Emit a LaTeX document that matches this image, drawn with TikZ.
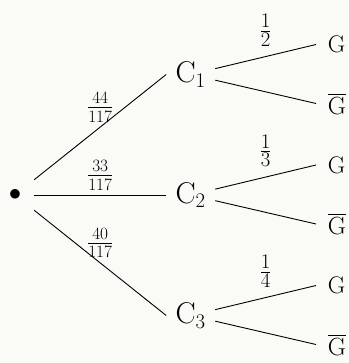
\documentclass[tikz,border=0pt]{standalone}
\usepackage{amsmath}
\usepackage{tikz}
\usetikzlibrary{positioning}
\definecolor{paper}{RGB}{250,250,246}

\begin{document}
\begin{tikzpicture}[x=1pt, y=-1pt, node distance=120.5pt,
    rootdot/.style={inner sep=0pt, minimum width=38pt, minimum height=36pt, font=\fontsize{24}{29}\selectfont},
    event/.style={inner xsep=9.3pt, inner ysep=2pt, font=\fontsize{30}{36}\selectfont},
    outcome/.style={anchor=west, inner xsep=11.7pt, inner ysep=2pt, font=\fontsize{24}{29}\selectfont},
    wlabel/.style={midway, above=4.5pt, inner sep=0pt, font=\fontsize{24}{29}\selectfont},
    plabel/.style={midway, above=10pt, inner sep=0pt, font=\fontsize{30}{36}\selectfont},
    branch/.style={line width=0.9pt}]
    \fill[paper] (0,0) rectangle (348,363);
    \useasboundingbox (0,0) rectangle (348,363);

    % first stage
    \node[rootdot] (root) at (15,195) {$\bullet$};
    \node[event, right=132pt of root] (c2) {C$_2$};
    \node[event, above of=c2] (c1) {C$_1$};
    \node[event, below of=c2] (c3) {C$_3$};

    % second stage
    \node[outcome] (g1) at (316,44.5) {G};
    \node[outcome] (n1) at (316,103.5) {$\overline{\mathrm{G}}$};
    \node[outcome] (g2) at (316,165) {G};
    \node[outcome] (n2) at (316,224) {$\overline{\mathrm{G}}$};
    \node[outcome] (g3) at (316,285.5) {G};
    \node[outcome] (n3) at (316,344.5) {$\overline{\mathrm{G}}$};

    \draw[branch] (root) -- node[wlabel] {$\frac{44}{117}$} (c1.west);
    \draw[branch] (root) -- node[wlabel] {$\frac{33}{117}$} (c2.west);
    \draw[branch] (root) -- node[wlabel] {$\frac{40}{117}$} (c3.west);

    \draw[branch] (c1) -- node[plabel] {$\frac{1}{2}$} (g1.west);
    \draw[branch] (c1) -- (n1.west);
    \draw[branch] (c2) -- node[plabel] {$\frac{1}{3}$} (g2.west);
    \draw[branch] (c2) -- (n2.west);
    \draw[branch] (c3) -- node[plabel] {$\frac{1}{4}$} (g3.west);
    \draw[branch] (c3) -- (n3.west);
\end{tikzpicture}
\end{document}
